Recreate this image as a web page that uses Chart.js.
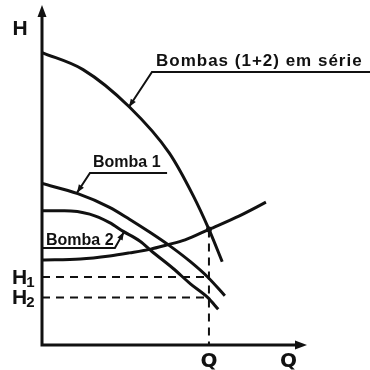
<!DOCTYPE html>
<html>
<head>
<meta charset="utf-8">
<style>
  html, body { margin: 0; padding: 0; background: #fff; }
  #c { display: block; }
</style>
<script src="https://cdn.jsdelivr.net/npm/chart.js@4/dist/chart.umd.min.js"></script>
</head>
<body>
<canvas id="c" width="370" height="370"></canvas>
<script>
// Pump characteristic curves (H vs Q), arbitrary units 0..100 on both axes
const seriesQ = [0, 15.5, 33, 48, 57, 63, 68];
const seriesH = [86, 81, 70, 56.5, 44, 34, 24.5];

const pump1Q = [0, 13.5, 25.5, 33, 41, 48.5, 56, 62.5, 69];
const pump1H = [47.5, 44.5, 40.5, 37, 33, 29, 24.5, 20, 14.5];

const pump2Q = [0, 8.5, 18, 25.5, 30.5, 37, 41.5, 49.5, 56, 62.5, 66.5];
const pump2H = [39.5, 39.5, 38.5, 36, 33.5, 30.5, 27.5, 22.5, 18, 14, 10.5];

const systemQ = [0, 14.5, 25.5, 33, 41, 47, 54, 63, 74.5, 84.5];
const systemH = [25, 25.3, 26.2, 27.1, 28.2, 29.4, 30.9, 34, 38, 42];

// operating point of the series pair and the heads of each pump at that flow
const opQ = 63;
const opH = 34;
const headPump1 = 20;
const headPump2 = 14;

const curveNames = ['Bombas (1+2) em série', 'Bomba 1', 'Bomba 2'];
const axisNames = ['H', 'Q'];
const headLabels = [['H', '1'], ['H', '2']];

const toPoints = (qs, hs) => qs.map((q, i) => ({ x: q, y: hs[i] }));

const INK = '#111';
const solid = (data) => ({
  data, showLine: true, borderColor: INK, borderWidth: 3, pointRadius: 0,
  cubicInterpolationMode: 'monotone', fill: false
});
const dashed = (data) => ({
  data, showLine: true, borderColor: INK, borderWidth: 2, pointRadius: 0,
  borderDash: [8, 6], tension: 0, fill: false
});

function arrowHead(ctx, fx, fy, tx, ty, len, half) {
  const a = Math.atan2(ty - fy, tx - fx);
  ctx.beginPath();
  ctx.moveTo(tx, ty);
  ctx.lineTo(tx - len * Math.cos(a) + half * Math.sin(a), ty - len * Math.sin(a) - half * Math.cos(a));
  ctx.lineTo(tx - len * Math.cos(a) - half * Math.sin(a), ty - len * Math.sin(a) + half * Math.cos(a));
  ctx.closePath();
  ctx.fill();
}

const decorations = {
  id: 'decorations',
  afterDatasetsDraw(chart) {
    const { ctx, chartArea: ca, scales: { x, y } } = chart;
    const X = (v) => x.getPixelForValue(v);
    const Y = (v) => y.getPixelForValue(v);
    ctx.save();
    ctx.strokeStyle = INK;
    ctx.fillStyle = INK;
    ctx.lineCap = 'butt';

    // axes with arrows
    ctx.lineWidth = 3;
    ctx.beginPath();
    ctx.moveTo(X(0), Y(0));
    ctx.lineTo(X(0), ca.top + 8);
    ctx.moveTo(X(0) - 1.5, Y(0));
    ctx.lineTo(ca.right - 8, Y(0));
    ctx.stroke();
    arrowHead(ctx, X(0), Y(0), X(0), ca.top, 12, 4.5);
    arrowHead(ctx, X(0), Y(0), ca.right, Y(0), 12, 4.5);

    // operating point
    ctx.beginPath();
    ctx.arc(X(opQ), Y(opH), 3, 0, Math.PI * 2);
    ctx.fill();

    // leader lines
    ctx.lineWidth = 2;
    const leader = (ux0, ux1, uy, tq, th) => {
      const sx = ux0, sy = uy;
      ctx.beginPath();
      ctx.moveTo(ux1, uy);
      ctx.lineTo(sx, sy);
      ctx.lineTo(X(tq), Y(th));
      ctx.stroke();
      arrowHead(ctx, sx, sy, X(tq), Y(th), 8, 3);
    };
    leader(X(41.5), chart.width, Y(80.3), 32.8, 70.0);
    leader(X(18.1), X(47.2), Y(50.6), 13.2, 44.8);
    leader(X(27.5), X(0), Y(28.5), 30.9, 33.2);

    // curve names
    ctx.textBaseline = 'alphabetic';
    ctx.textAlign = 'left';
    ctx.font = 'bold 17px "Liberation Sans", Arial, sans-serif';
    ctx.letterSpacing = '1px';
    ctx.fillText(curveNames[0], X(41.5) + 4, Y(80.3) - 6);
    ctx.letterSpacing = '0px';
    ctx.font = 'bold 16px "Liberation Sans", Arial, sans-serif';
    ctx.fillText(curveNames[1], X(18.1) + 3, Y(50.6) - 6);
    ctx.fillText(curveNames[2], X(0) + 4, Y(28.5) - 3);

    // axis names
    ctx.textAlign = 'center';
    ctx.font = 'bold 21px "Liberation Sans", Arial, sans-serif';
    ctx.fillText(axisNames[0], X(0) - 22, ca.top + 30);
    ctx.font = 'bold 20px "DejaVu Sans", sans-serif';
    ctx.fillText(axisNames[1], X(93), ca.bottom + 22);
    ctx.fillText(axisNames[1], X(opQ), ca.bottom + 22);

    // head labels with subscripts
    const headLabel = (parts, h) => {
      ctx.textAlign = 'left';
      ctx.font = 'bold 21px "Liberation Sans", Arial, sans-serif';
      const bx = X(0) - 30;
      const by = Y(h) + 7;
      ctx.fillText(parts[0], bx, by);
      const w = ctx.measureText(parts[0]).width;
      ctx.font = 'bold 15px "Liberation Sans", Arial, sans-serif';
      ctx.fillText(parts[1], bx + w - 1, by + 3);
    };
    headLabel(headLabels[0], headPump1);
    headLabel(headLabels[1], headPump2);

    ctx.restore();
  }
};

new Chart(document.getElementById('c'), {
  type: 'scatter',
  data: {
    datasets: [
      solid(toPoints(seriesQ, seriesH)),
      solid(toPoints(pump1Q, pump1H)),
      solid(toPoints(pump2Q, pump2H)),
      solid(toPoints(systemQ, systemH)),
      dashed([{ x: 0, y: headPump1 }, { x: opQ, y: headPump1 }]),
      dashed([{ x: 0, y: headPump2 }, { x: opQ, y: headPump2 }]),
      dashed([{ x: opQ, y: opH }, { x: opQ, y: 0 }])
    ]
  },
  options: {
    responsive: false,
    animation: false,
    devicePixelRatio: 1,
    layout: { padding: { left: 42, right: 63, top: 5, bottom: 25 } },
    scales: {
      x: { type: 'linear', min: 0, max: 100, display: false },
      y: { type: 'linear', min: 0, max: 100, display: false }
    },
    plugins: { legend: { display: false }, tooltip: { enabled: false } }
  },
  plugins: [decorations]
});
</script>
</body>
</html>
